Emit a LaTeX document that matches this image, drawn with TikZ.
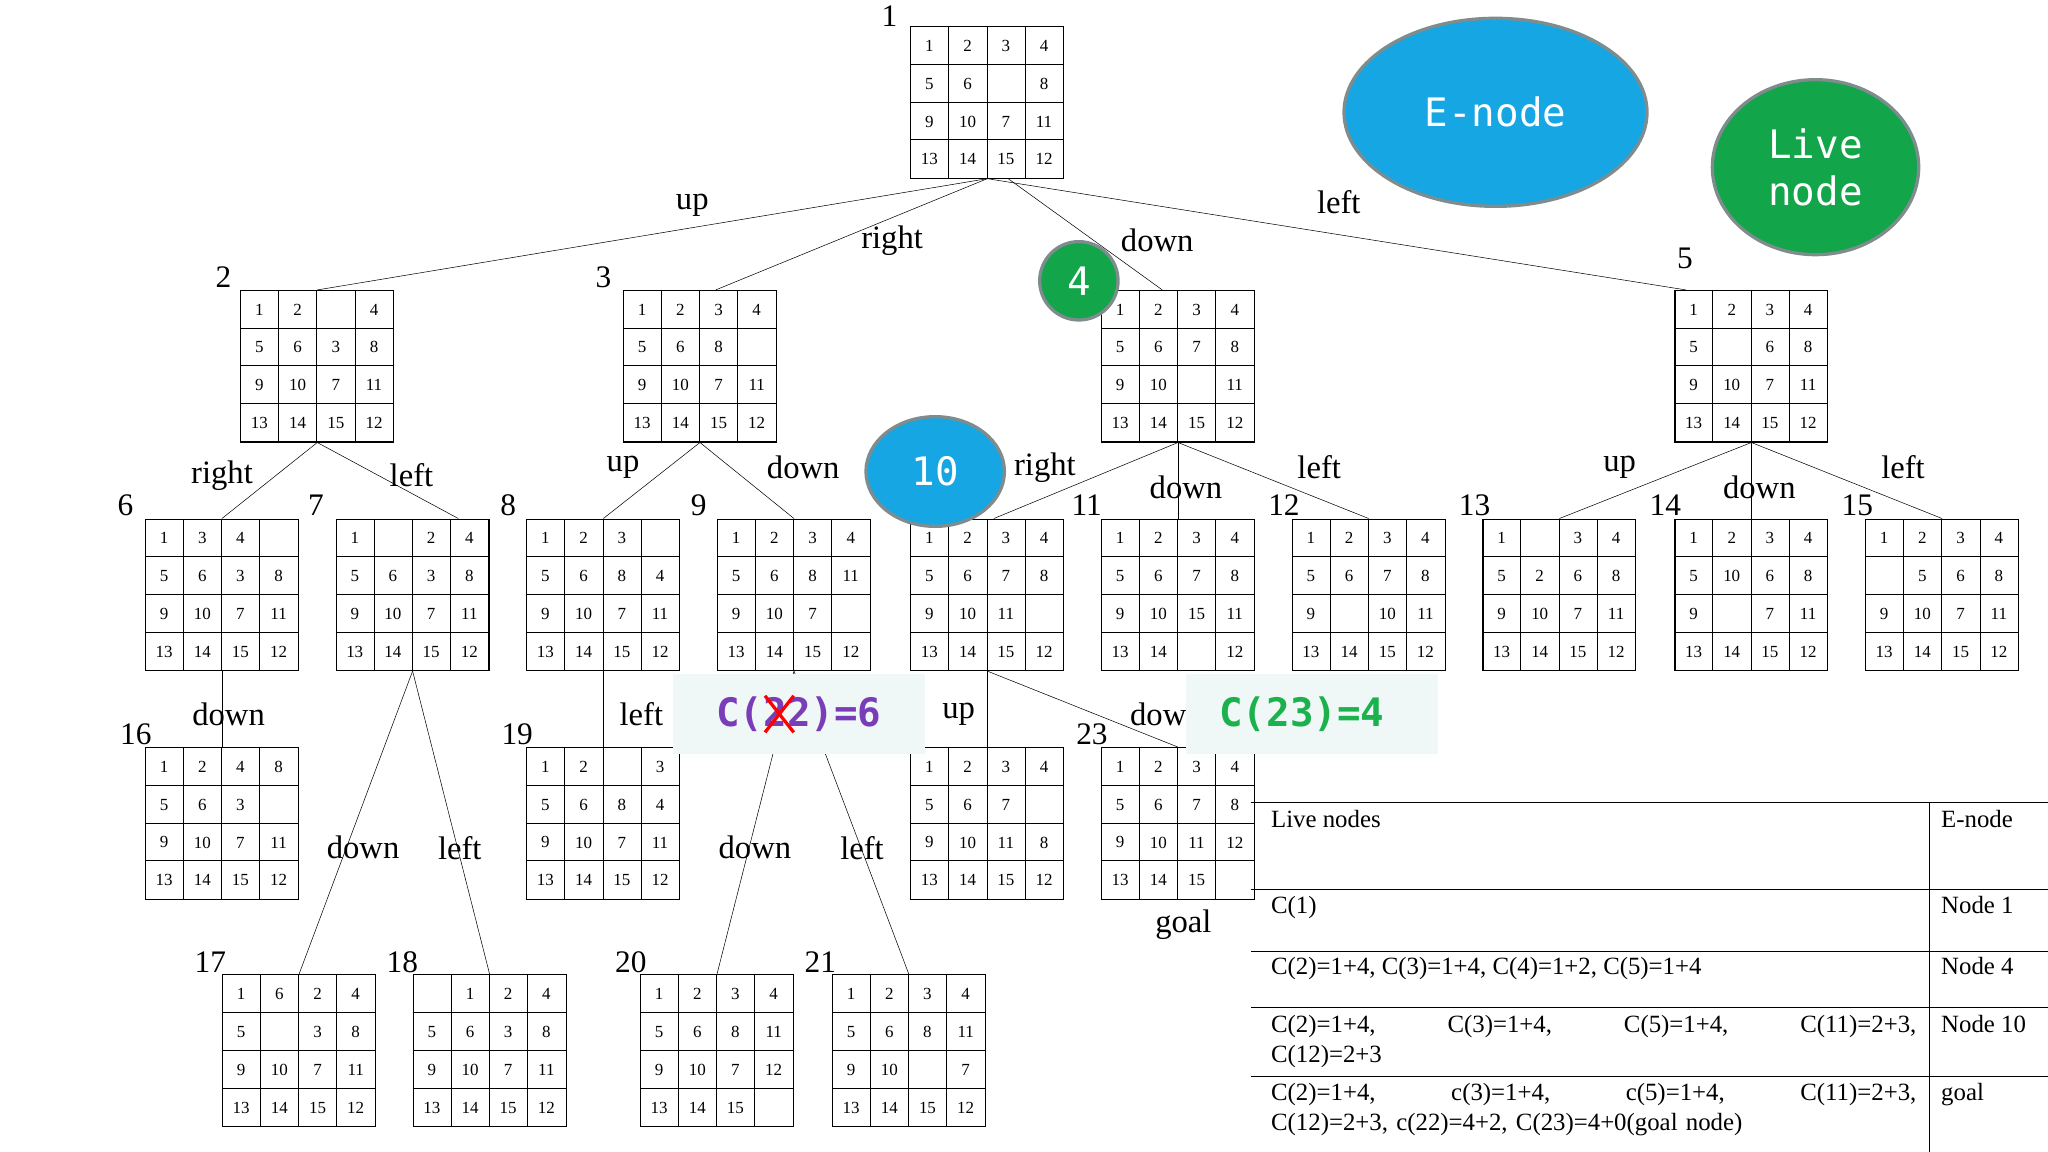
\documentclass[tikz,border=0pt]{standalone}
\usepackage{fontspec}
\setmainfont{Liberation Serif}
\newfontfamily\mono{DejaVu Sans Mono}
\usetikzlibrary{calc,shapes.geometric}
\definecolor{enode}{HTML}{16A6E3}
\definecolor{lnode}{HTML}{12A54A}
\definecolor{ring}{HTML}{7F8C8D}
\definecolor{cpurple}{HTML}{7A3DB8}
\definecolor{cgreen}{HTML}{1BB24E}
\definecolor{pale}{HTML}{F0F7F7}
\tikzset{
  box/.style={draw,thick,anchor=north west,minimum width=117pt,minimum height=116pt,inner sep=0pt},
  num/.style={font=\fontsize{13}{13}\selectfont,inner sep=0pt},
  lbl/.style={font=\fontsize{25}{25}\selectfont,inner sep=1pt},
  idx/.style={font=\fontsize{24}{24}\selectfont,inner sep=0pt},
  edge/.style={thin},
  blob/.style={draw=ring,line width=2.5pt,text=white,font=\mono\fontsize{30}{36}\selectfont,align=center},
  row/.style={font=\fontsize{19}{23}\selectfont,anchor=north west,inner sep=0pt,align=left},
  wide/.style={row,text width=494pt},
}
\newcommand\puzzle[4]{%
  \node[box] (#1) at (#2,#3) {};
  \foreach \v [count=\k from 0] in {#4} {
    \pgfmathtruncatemacro\cc{mod(\k,4)}
    \pgfmathtruncatemacro\rr{div(\k,4)}
    \node[num] at ($(#1.north west)+(\cc*29.25+14.6,\rr*29+15)$) {\v};
  }
  \foreach \i in {1,2,3} {
    \draw ($(#1.north west)+(\i*29.25,0)$) -- ++(0,116);
    \draw ($(#1.north west)+(0,\i*29)$) -- ++(117,0);
  }
}
\begin{document}
\begin{tikzpicture}[x=1pt,y=-1pt]
\useasboundingbox (0,0) rectangle (1568,882);
% puzzles
\puzzle{n1}{697}{20}{1,2,3,4,5,6,,8,9,10,7,11,13,14,15,12}
\puzzle{n2}{184}{222}{1,2,,4,5,6,3,8,9,10,7,11,13,14,15,12}
\puzzle{n3}{477}{222}{1,2,3,4,5,6,8,,9,10,7,11,13,14,15,12}
\puzzle{n4}{843}{222}{1,2,3,4,5,6,7,8,9,10,,11,13,14,15,12}
\puzzle{n5}{1282}{222}{1,2,3,4,5,,6,8,9,10,7,11,13,14,15,12}
\puzzle{n6}{111}{397}{1,3,4,,5,6,3,8,9,10,7,11,13,14,15,12}
\puzzle{n7}{257}{397}{1,,2,4,5,6,3,8,9,10,7,11,13,14,15,12}
\puzzle{n8}{403}{397}{1,2,3,,5,6,8,4,9,10,7,11,13,14,15,12}
\puzzle{n9}{549}{397}{1,2,3,4,5,6,8,11,9,10,7,,13,14,15,12}
\puzzle{n10}{697}{397}{1,2,3,4,5,6,7,8,9,10,11,,13,14,15,12}
\puzzle{n11}{843}{397}{1,2,3,4,5,6,7,8,9,10,15,11,13,14,,12}
\puzzle{n12}{989}{397}{1,2,3,4,5,6,7,8,9,,10,11,13,14,15,12}
\puzzle{n13}{1135}{397}{1,,3,4,5,2,6,8,9,10,7,11,13,14,15,12}
\puzzle{n14}{1282}{397}{1,2,3,4,5,10,6,8,9,,7,11,13,14,15,12}
\puzzle{n15}{1428}{397}{1,2,3,4,,5,6,8,9,10,7,11,13,14,15,12}
\puzzle{n16}{111}{572}{1,2,4,8,5,6,3,,9,10,7,11,13,14,15,12}
\puzzle{n19}{403}{572}{1,2,,3,5,6,8,4,9,10,7,11,13,14,15,12}
\puzzle{n22}{697}{572}{1,2,3,4,5,6,7,,9,10,11,8,13,14,15,12}
\puzzle{n23}{843}{572}{1,2,3,4,5,6,7,8,9,10,11,12,13,14,15,}
\puzzle{n17}{170}{746}{1,6,2,4,5,,3,8,9,10,7,11,13,14,15,12}
\puzzle{n18}{316}{746}{,1,2,4,5,6,3,8,9,10,7,11,13,14,15,12}
\puzzle{n20}{490}{746}{1,2,3,4,5,6,8,11,9,10,7,12,13,14,15,}
\puzzle{n21}{637}{746}{1,2,3,4,5,6,8,11,9,10,,7,13,14,15,12}
% indices
\node[idx] (i1) at (681,12) {1};
\node[idx] (i2) at (171,212) {2};
\node[idx] (i3) at (462,212) {3};
\node[idx] (i5) at (1290,198) {5};
\node[idx] (i6) at (96,387) {6};
\node[idx] (i7) at (242,387) {7};
\node[idx] (i8) at (389,387) {8};
\node[idx] (i9) at (535,387) {9};
\node[idx] (i11) at (832,387) {11};
\node[idx] (i12) at (983,387) {12};
\node[idx] (i13) at (1129,387) {13};
\node[idx] (i14) at (1275,387) {14};
\node[idx] (i15) at (1422,387) {15};
\node[idx] (i16) at (104,562) {16};
\node[idx] (i19) at (396,562) {19};
\node[idx] (i23) at (836,562) {23};
\node[idx] (i17) at (161,737) {17};
\node[idx] (i18) at (308,737) {18};
\node[idx] (i20) at (483,737) {20};
\node[idx] (i21) at (628,737) {21};
% connectors
\draw[edge] (n1.south) -- (n2.north);
\draw[edge] (n1.south) -- ($(n3.north)+(12,0)$);
\draw[edge] ($(n1.south)+(16,0)$) -- ($(n4.north)+(-12,0)$);
\draw[edge] (n1.south) -- ($(n5.north)+(-50,0)$);
\draw[edge] (n2.south) -- (n6.north);
\draw[edge] (n2.south) -- ($(n7.north)+(35,0)$);
\draw[edge] (n3.south) -- (n8.north);
\draw[edge] (n3.south) -- (n9.north);
\draw[edge] (n4.south) -- ($(n10.north)+(5,0)$);
\draw[edge] (n4.south) -- (n11.north);
\draw[edge] (n4.south) -- (n12.north);
\draw[edge] (n5.south) -- (n13.north);
\draw[edge] (n5.south) -- (n14.north);
\draw[edge] (n5.south) -- (n15.north);
\draw[edge] (n6.south) -- (n16.north);
\draw[edge] (n7.south) -- (n17.north);
\draw[edge] (n7.south) -- (n18.north);
\draw[edge] (n8.south) -- (n19.north);
\draw[edge] (n9.south) -- (n20.north);
\draw[edge] (n9.south) -- (n21.north);
\draw[edge] (n10.south) -- (n22.north);
\draw[edge] (n10.south) -- (n23.north);
% edge labels
\node[lbl] (l12) at (530,157) {up};
\node[lbl] (l13) at (683,184) {right};
\node[lbl] (l14) at (886,184) {down};
\node[lbl] (l15) at (1025,155) {left};
\node[lbl] (l26) at (170,364) {right};
\node[lbl] (l27) at (315,364) {left};
\node[lbl] (l38) at (477,358) {up};
\node[lbl] (l39) at (615,358) {down};
\node[lbl] (l410) at (800,358) {right};
\node[lbl] (l411) at (908,373) {down};
\node[lbl] (l412) at (1010,358) {left};
\node[lbl] (l513) at (1240,358) {up};
\node[lbl] (l514) at (1347,373) {down};
\node[lbl] (l515) at (1457,358) {left};
\node[lbl] (l616) at (175,547) {down};
\node[lbl] (l717) at (278,649) {down};
\node[lbl] (l718) at (352,649) {left};
\node[lbl] (l819) at (491,547) {left};
\node[lbl] (l920) at (578,649) {down};
\node[lbl] (l921) at (660,649) {left};
\node[lbl] (l1022) at (734,547) {up};
\node[lbl] (l1023) at (893,547) {down};
\node[lbl] (goal) at (906,708) {goal};
% overlays
\node[fill=pale,minimum width=193pt,minimum height=61pt,anchor=north west,inner sep=0pt] (c22) at (515,516) {};
\node[text=cpurple,font=\mono\bfseries\fontsize{30}{30}\selectfont,inner sep=0pt] (t22) at (c22.center) {C(22)=6};
\draw[red,line width=2.5pt] ($(t22.center)+(-26,-14)$) -- ($(t22.center)+(-4,14)$);
\draw[red,line width=2.5pt] ($(t22.center)+(-26,14)$) -- ($(t22.center)+(-4,-14)$);
\node[fill=pale,minimum width=193pt,minimum height=61pt,anchor=north west,inner sep=0pt] (c23) at (908,516) {};
\node[text=cgreen,font=\mono\bfseries\fontsize{30}{30}\selectfont,inner sep=0pt] (t23) at ($(c23.center)+(-8,0)$) {C(23)=4};
\node[blob,fill=enode,ellipse,minimum width=232pt,minimum height=144pt] (en) at (1145,86) {E-node};
\node[blob,fill=lnode,ellipse,minimum width=158pt,minimum height=134pt] (ln) at (1390,128) {Live\\node};
\node[blob,fill=lnode,circle,minimum size=60pt,inner sep=0pt] (b4) at (826,215) {4};
\node[blob,fill=enode,ellipse,minimum width=106pt,minimum height=84pt,inner sep=0pt] (b10) at (716,361) {10};
% table
\draw[thin] (958,614) -- (1568,614);
\draw[thin] (958,681) -- (1568,681);
\draw[thin] (958,728) -- (1568,728);
\draw[thin] (958,771) -- (1568,771);
\draw[thin] (958,824) -- (1568,824);
\draw[thin] (1477,614) -- (1477,882);
\node[row] (r0) at (973,620) {Live nodes};
\node[row] (e0) at (1486,620) {E-node};
\node[row] (r1) at (973,686) {C(1)};
\node[row] (e1) at (1486,686) {Node 1};
\node[row] (r2) at (973,733) {C(2)=1+4, C(3)=1+4, C(4)=1+2, C(5)=1+4};
\node[row] (e2b) at (1486,733) {Node 4};
\node[wide] (r3) at (973,777) {C(2)=1+4,\hfill C(3)=1+4,\hfill C(5)=1+4,\hfill C(11)=2+3,\\C(12)=2+3};
\node[row] (e2) at (1486,777) {Node 10};
\node[wide] (r4) at (973,829) {C(2)=1+4,\hfill c(3)=1+4,\hfill c(5)=1+4,\hfill C(11)=2+3,\\C(12)=2+3, c(22)=4+2, C(23)=4+0(goal node)};
\node[row] (e4) at (1486,829) {goal};
\end{tikzpicture}
\end{document}
